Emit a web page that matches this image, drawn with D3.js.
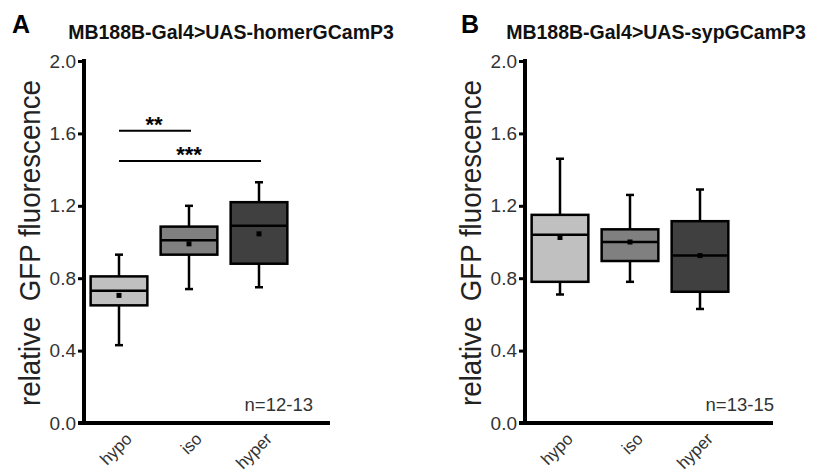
<!DOCTYPE html>
<html>
<head>
<meta charset="utf-8">
<script src="https://cdn.jsdelivr.net/npm/d3@7"></script>
<style>
  body { margin: 0; background: #fff; }
  svg { display: block; font-family: Arial, "Liberation Sans", sans-serif; }
</style>
</head>
<body>
<script>
// categories and tick labels
const categories = ["hypo", "iso", "hyper"];
const yTicks = [0.0, 0.4, 0.8, 1.2, 1.6, 2.0];
const fills = ["#c0c0c0", "#808080", "#404040"];

// panel A: homerGCamP3
const homerMin = [0.43, 0.74, 0.75];
const homerQ1 = [0.65, 0.93, 0.88];
const homerMedian = [0.73, 1.01, 1.09];
const homerQ3 = [0.81, 1.085, 1.22];
const homerMax = [0.93, 1.20, 1.33];
const homerMean = [0.705, 0.99, 1.045];
const homerSig = [
  {from: "hypo", to: "iso", label: "**", value: 1.615},
  {from: "hypo", to: "hyper", label: "***", value: 1.447}
];

// panel B: sypGCamP3
const sypMin = [0.71, 0.78, 0.63];
const sypQ1 = [0.78, 0.895, 0.725];
const sypMedian = [1.04, 1.0, 0.925];
const sypQ3 = [1.15, 1.07, 1.115];
const sypMax = [1.46, 1.26, 1.29];
const sypMean = [1.025, 1.0, 0.925];

const width = 817, height = 474;

const svg = d3.select("body").append("svg")
    .attr("width", width)
    .attr("height", height);

// same value scale for both panels
const y = d3.scaleLinear().domain([0, 2]).range([423, 61]);

function stats(min, q1, med, q3, max, mean) {
  return categories.map((c, i) => ({
    cat: c, fill: fills[i],
    min: min[i], q1: q1[i], med: med[i], q3: q3[i], max: max[i], mean: mean[i]
  }));
}

function drawPanel(p) {
  const g = svg.append("g");
  const left = p.left;

  const x = d3.scaleBand()
      .domain(categories)
      .range([left, left + 210])
      .paddingInner(0.19)
      .paddingOuter(0.095);
  const cx = d => x(d) + x.bandwidth() / 2;

  // panel letter and title
  g.append("text")
      .attr("x", p.letterX)
      .attr("y", 33)
      .attr("font-size", 25)
      .attr("font-weight", "bold")
      .attr("fill", "#000")
      .text(p.letter);

  g.append("text")
      .attr("x", p.titleX)
      .attr("y", 39)
      .attr("text-anchor", "middle")
      .attr("font-size", 19.5)
      .attr("font-weight", "bold")
      .attr("fill", "#111")
      .text(p.title);

  // y axis
  const yAxis = d3.axisLeft(y)
      .tickValues(yTicks)
      .tickFormat(d3.format(".1f"))
      .tickSize(6)
      .tickSizeOuter(0);

  g.append("g")
      .attr("transform", `translate(${left},0)`)
      .call(yAxis)
      .call(a => a.select(".domain").remove())
      .call(a => a.selectAll(".tick line").attr("stroke", "#000").attr("stroke-width", 3))
      .call(a => a.selectAll(".tick text")
          .attr("x", -8)
          .attr("font-size", 19)
          .attr("font-family", "Arial, 'Liberation Sans', sans-serif")
          .attr("fill", "#333"));

  g.append("line")
      .attr("x1", left).attr("x2", left)
      .attr("y1", y(2) - 2).attr("y2", y(0))
      .attr("stroke", "#000").attr("stroke-width", 4);

  // x axis
  g.append("line")
      .attr("x1", left - 6).attr("x2", p.right)
      .attr("y1", y(0)).attr("y2", y(0))
      .attr("stroke", "#000").attr("stroke-width", 4);

  // category labels, tilted 45 degrees
  g.append("g")
    .selectAll("text")
    .data(categories)
    .join("text")
      .attr("transform", d => `translate(${cx(d) + 14},440) rotate(-45)`)
      .attr("text-anchor", "end")
      .attr("font-size", 17)
      .attr("fill", "#333")
      .text(d => d);

  // y axis title
  g.append("text")
      .attr("transform", `translate(${left - 44},${(61 + 423) / 2 + 1}) rotate(-90)`)
      .attr("text-anchor", "middle")
      .attr("font-size", 30)
      .attr("fill", "#222")
      .attr("textLength", 326)
      .attr("lengthAdjust", "spacingAndGlyphs")
      .attr("xml:space", "preserve")
      .text("relative  GFP fluorescence");

  // boxes
  const boxes = g.append("g")
    .selectAll("g")
    .data(p.data)
    .join("g");

  boxes.append("line")
      .attr("x1", d => cx(d.cat)).attr("x2", d => cx(d.cat))
      .attr("y1", d => y(d.max)).attr("y2", d => y(d.min))
      .attr("stroke", "#000").attr("stroke-width", 2.5);

  boxes.selectAll(".cap")
    .data(d => [d, d].map((e, i) => ({cat: e.cat, v: i ? e.min : e.max})))
    .join("line")
      .attr("class", "cap")
      .attr("x1", d => cx(d.cat) - 4).attr("x2", d => cx(d.cat) + 4)
      .attr("y1", d => y(d.v)).attr("y2", d => y(d.v))
      .attr("stroke", "#000").attr("stroke-width", 2.5);

  boxes.append("rect")
      .attr("x", d => x(d.cat))
      .attr("width", x.bandwidth())
      .attr("y", d => y(d.q3))
      .attr("height", d => y(d.q1) - y(d.q3))
      .attr("fill", d => d.fill)
      .attr("stroke", "#000").attr("stroke-width", 2.5);

  boxes.append("line")
      .attr("x1", d => x(d.cat)).attr("x2", d => x(d.cat) + x.bandwidth())
      .attr("y1", d => y(d.med)).attr("y2", d => y(d.med))
      .attr("stroke", "#000").attr("stroke-width", 2.5);

  boxes.append("rect")
      .attr("x", d => cx(d.cat) - 2.5)
      .attr("y", d => y(d.mean) - 2.5)
      .attr("width", 5).attr("height", 5)
      .attr("fill", "#000");

  // significance bars
  const sig = g.append("g")
    .selectAll("g")
    .data(p.sig || [])
    .join("g");

  sig.append("line")
      .attr("x1", d => cx(d.from)).attr("x2", d => cx(d.to) + 2)
      .attr("y1", d => y(d.value)).attr("y2", d => y(d.value))
      .attr("stroke", "#000").attr("stroke-width", 2);

  sig.append("text")
      .attr("x", d => (cx(d.from) + cx(d.to)) / 2)
      .attr("y", d => y(d.value) + 1)
      .attr("text-anchor", "middle")
      .attr("font-size", 22)
      .attr("font-weight", "bold")
      .attr("fill", "#000")
      .text(d => d.label);

  // sample size
  g.append("text")
      .attr("x", p.nX)
      .attr("y", 411)
      .attr("text-anchor", "end")
      .attr("font-size", 18.5)
      .attr("fill", "#333")
      .text(p.n);
}

drawPanel({
  left: 84, right: 330,
  letter: "A", letterX: 12,
  title: "MB188B-Gal4>UAS-homerGCamP3", titleX: 231,
  data: stats(homerMin, homerQ1, homerMedian, homerQ3, homerMax, homerMean),
  sig: homerSig,
  n: "n=12-13", nX: 313
});

drawPanel({
  left: 525, right: 773,
  letter: "B", letterX: 461,
  title: "MB188B-Gal4>UAS-sypGCamP3", titleX: 656,
  data: stats(sypMin, sypQ1, sypMedian, sypQ3, sypMax, sypMean),
  n: "n=13-15", nX: 774
});
</script>
</body>
</html>
